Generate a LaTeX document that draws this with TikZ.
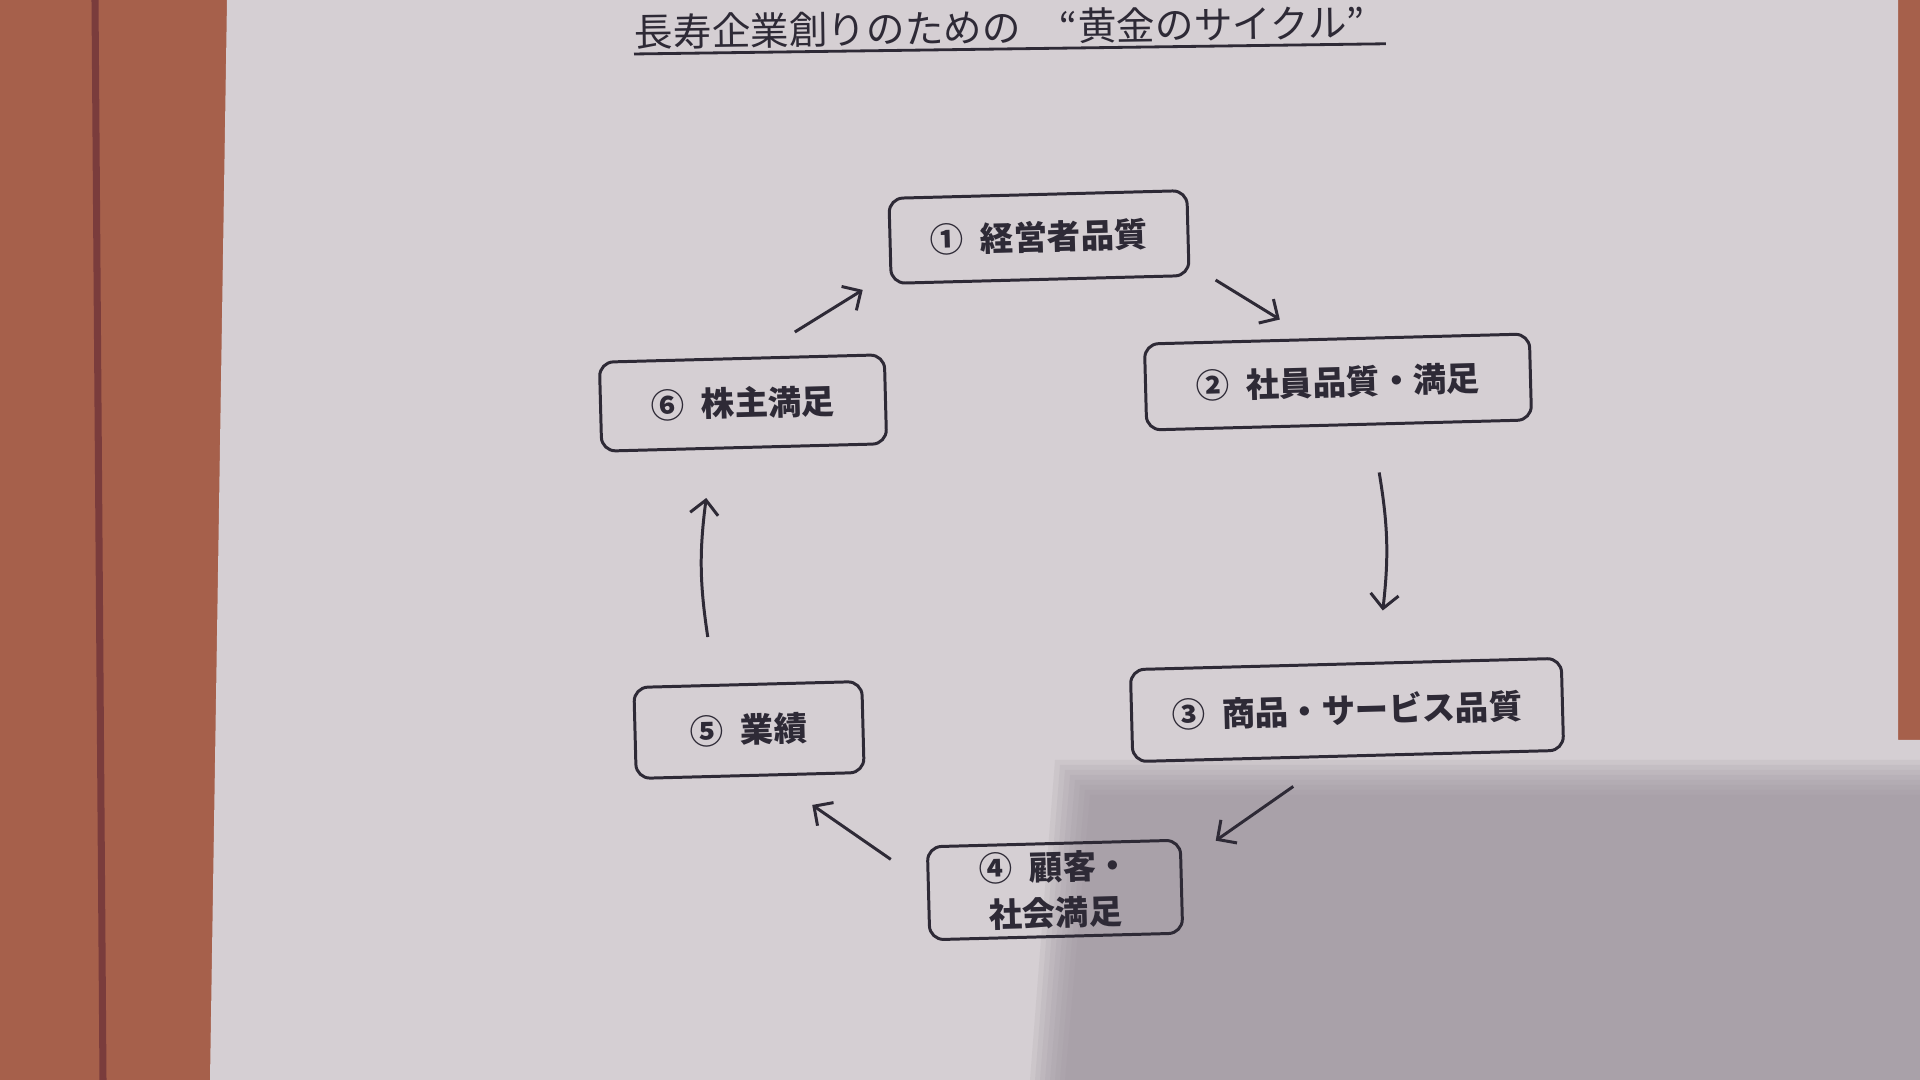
\documentclass[tikz,border=0pt]{standalone}
\usepackage{fontspec}
\newfontfamily\jpfont{Noto Sans CJK JP}
\usetikzlibrary{calc,positioning,arrows.meta}

\definecolor{legno}{HTML}{A6604B}
\definecolor{legnoscuro}{HTML}{7A3C3C}
\definecolor{carta}{HTML}{D5CFD3}
\definecolor{ombra}{HTML}{9A909A}
\definecolor{inchiostro}{HTML}{2E2A36}

\tikzset{
  casella/.style={draw=inchiostro, line width=0.85pt, rounded corners=4pt, rotate=1.5,
    inner sep=0pt, text=inchiostro, font=\jpfont\bfseries\fontsize{9.5}{13}\selectfont},
  freccia/.style={draw=inchiostro, line width=0.85pt, -{Straight Barb[length=4pt,width=8pt]}},
}

\begin{document}
\begin{tikzpicture}
  \useasboundingbox (0,0) rectangle (19.2,10.8);

  % sfondo (tavolo)
  \fill[legno] (0,0) rectangle (19.2,10.8);
  \draw[legnoscuro, line width=2pt] (0.95,10.8) -- (1.03,0);
  % foglio
  \fill[carta] (2.27,10.8) -- (18.98,10.8) -- (18.98,3.4) -- (19.2,3.4) -- (19.2,0) -- (2.10,0) -- cycle;
  % ombra
  \foreach \s in {0,0.05,...,0.36}
    \fill[ombra, opacity=0.14] (10.30+\s,0) -- (10.55+\s,3.2-\s) -- (19.2,3.2-\s) -- (19.2,0) -- cycle;

  % titolo
  \node[anchor=base west, inner sep=0pt, rotate=0.8, text=inchiostro,
    font=\jpfont\fontsize{11}{13}\selectfont] (titolo) at (6.34,10.33)
    {長寿企業創りのための　“黄金のサイクル”};
  \draw[inchiostro, line width=0.8pt] ([yshift=-0.07cm]titolo.base west) -- ([shift={(0.2,-0.07)}]titolo.base east);

  % caselle
  \node[casella, minimum width=2.98cm, minimum height=0.85cm] (n1) at (10.39,8.43) {①\enspace 経営者品質};
  \node[casella, minimum width=3.85cm, minimum height=0.86cm] (n2) at (13.38,6.98) {②\enspace 社員品質・満足};
  \node[casella, minimum width=4.31cm, minimum height=0.92cm] (n3) at (13.47,3.70) {③\enspace 商品・サービス品質};
  \node[casella, minimum width=2.53cm, minimum height=0.93cm, align=center] (n4) at (10.55,1.90) {④\enspace 顧客・\\社会満足};
  \node[casella, minimum width=2.28cm, minimum height=0.91cm] (n5) at (7.49,3.50) {⑤\enspace 業績};
  \node[casella, minimum width=2.85cm, minimum height=0.89cm] (n6) at (7.43,6.77) {⑥\enspace 株主満足};

  % frecce del ciclo
  \draw[freccia] ([shift={(0.53,0.25)}]n6.north) -- ([shift={(-0.27,-0.05)}]n1.south west);
  \draw[freccia] ([shift={(0.25,-0.03)}]n1.south east) -- ([shift={(-0.57,0.18)}]n2.north);
  \draw[freccia] ([shift={(0.40,-0.46)}]n2.south) to[bend left=8] ([shift={(0.37,0.52)}]n3.north);
  \draw[freccia] ([shift={(-0.55,-0.29)}]n3.south) -- ([shift={(0.34,-0.02)}]n4.north east);
  \draw[freccia] ([shift={(-0.35,-0.14)}]n4.north west) -- ([shift={(0.62,-0.28)}]n5.south);
  \draw[freccia] ([shift={(-0.40,0.46)}]n5.north) to[bend left=8] ([shift={(-0.38,-0.49)}]n6.south);
\end{tikzpicture}
\end{document}
